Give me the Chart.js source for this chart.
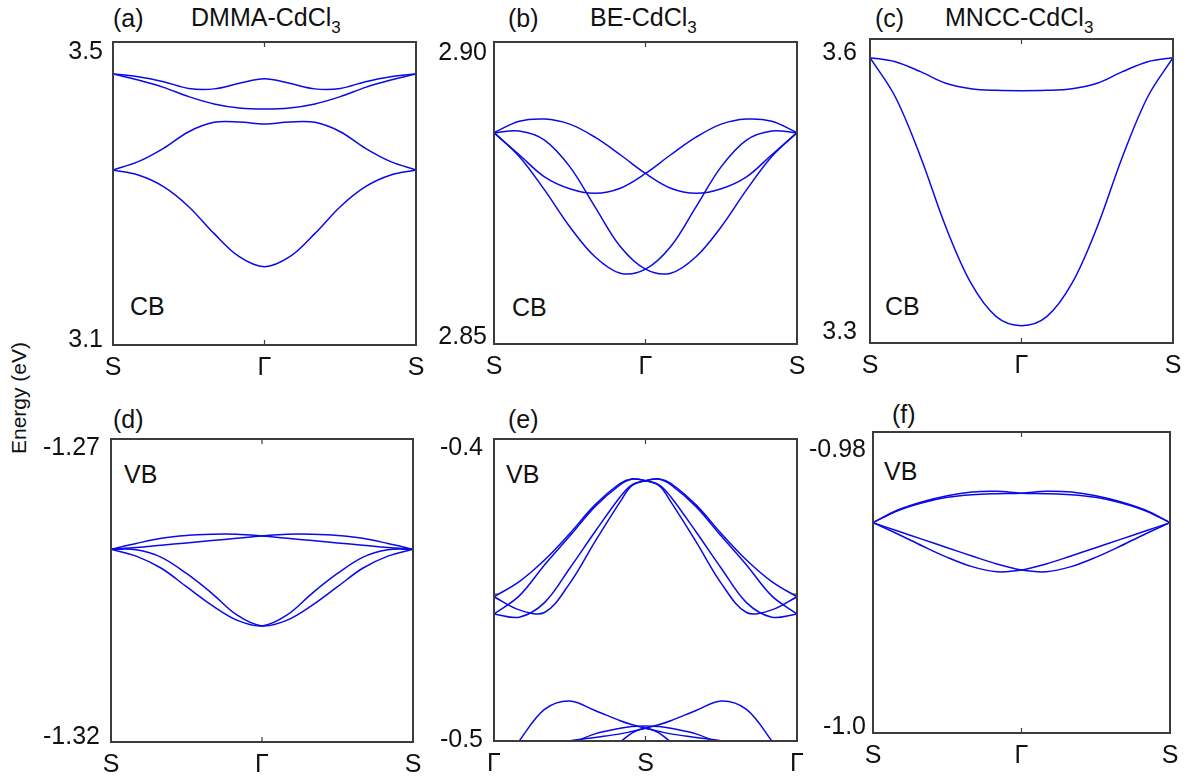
<!DOCTYPE html>
<html>
<head>
<meta charset="utf-8">
<script src="https://cdn.jsdelivr.net/npm/chart.js@4.4.0/dist/chart.umd.min.js"></script>
<style>
  html, body { margin: 0; padding: 0; background: #fff; overflow: hidden; }
  #fig { position: relative; width: 1191px; height: 783px; font-family: "Liberation Sans", Arial, sans-serif; color: #111; }
  .txt { position: absolute; white-space: nowrap; line-height: 25px; font-size: 25px; }
  .sub { font-size: 17px; position: relative; top: 7px; }
  #ylab { position: absolute; left: 18px; top: 398px; font-size: 21px; line-height: 21px; white-space: nowrap;
          transform: translate(-50%, -50%) rotate(-90deg); }
</style>
</head>
<body>
<div id="fig">
  <div class="txt" style="left:113px;top:6px">(a)</div>
  <div class="txt" style="left:191px;top:5px">DMMA-CdCl<span class="sub">3</span></div>
  <div class="txt" style="left:508px;top:6px">(b)</div>
  <div class="txt" style="left:590px;top:5px">BE-CdCl<span class="sub">3</span></div>
  <div class="txt" style="left:875px;top:6px">(c)</div>
  <div class="txt" style="left:945px;top:5px">MNCC-CdCl<span class="sub">3</span></div>
  <div class="txt" style="left:130px;top:294px">CB</div>
  <div class="txt" style="left:512px;top:295px">CB</div>
  <div class="txt" style="left:885px;top:294px">CB</div>
  <div class="txt" style="left:113px;top:407px">(d)</div>
  <div class="txt" style="left:508px;top:407px">(e)</div>
  <div class="txt" style="left:892px;top:402px">(f)</div>
  <div class="txt" style="left:124px;top:462px">VB</div>
  <div class="txt" style="left:506px;top:462px">VB</div>
  <div class="txt" style="left:884px;top:459px">VB</div>
  <div id="ylab">Energy (eV)</div>
</div>
<script>
// k-path positions (fraction of the path)
var kx13 = [0, 0.0833, 0.1667, 0.25, 0.3333, 0.4167, 0.5, 0.5833, 0.6667, 0.75, 0.8333, 0.9167, 1];
var kx15 = [0, 0.0833, 0.1667, 0.25, 0.3333, 0.4167, 0.454, 0.5, 0.546, 0.5833, 0.6667, 0.75, 0.8333, 0.9167, 1];

var kLabelsSGS = ['S', 'Γ', 'S'];
var kLabelsGSG = ['Γ', 'S', 'Γ'];

// (a) DMMA-CdCl3, conduction band
var dmma1 = [3.3361, 3.3292, 3.3130, 3.2852, 3.2481, 3.2157, 3.2019, 3.2157, 3.2481, 3.2852, 3.3130, 3.3292, 3.3361];
var dmma2 = [3.3361, 3.3477, 3.3662, 3.3893, 3.4023, 3.4028, 3.4000, 3.4028, 3.4023, 3.3893, 3.3662, 3.3477, 3.3361];
var dmma3 = [3.4694, 3.4611, 3.4509, 3.4380, 3.4278, 3.4222, 3.4208, 3.4222, 3.4278, 3.4380, 3.4509, 3.4611, 3.4694];
var dmma4 = [3.4694, 3.4657, 3.4588, 3.4494, 3.4488, 3.4565, 3.4630, 3.4565, 3.4488, 3.4494, 3.4588, 3.4657, 3.4694];
var dmmaTicks = [3.1, 3.5];
var dmmaTickLabels = ['3.1', '3.5'];

// (b) BE-CdCl3, conduction band
var be1 = [2.8860, 2.8880, 2.8884, 2.8875, 2.8852, 2.8821, 2.8788, 2.8762, 2.8753, 2.8761, 2.8782, 2.8821, 2.8860];
var be2 = [2.8860, 2.8821, 2.8782, 2.8761, 2.8753, 2.8762, 2.8788, 2.8821, 2.8852, 2.8875, 2.8884, 2.8880, 2.8860];
var be3 = [2.8860, 2.8863, 2.8847, 2.8800, 2.8729, 2.8659, 2.8619, 2.8612, 2.8641, 2.8694, 2.8759, 2.8818, 2.8860];
var be4 = [2.8860, 2.8818, 2.8759, 2.8694, 2.8641, 2.8612, 2.8619, 2.8659, 2.8729, 2.8800, 2.8847, 2.8863, 2.8860];
var beTicks = [2.85, 2.90];
var beTickLabels = ['2.85', '2.90'];

// (c) MNCC-CdCl3, conduction band
var mncc1 = [3.5953, 3.5909, 3.5802, 3.5677, 3.5619, 3.5601, 3.5597, 3.5601, 3.5619, 3.5677, 3.5802, 3.5909, 3.5953];
var mncc2 = [3.5953, 3.5532, 3.4886, 3.4131, 3.3522, 3.3162, 3.3065, 3.3162, 3.3522, 3.4131, 3.4886, 3.5532, 3.5953];
var mnccTicks = [3.3, 3.6];
var mnccTickLabels = ['3.3', '3.6'];

// (d) DMMA-CdCl3, valence band
var dmmaV1 = [-1.2875, -1.2865, -1.2856, -1.2851, -1.2849, -1.2849, -1.2852, -1.2856, -1.2860, -1.2864, -1.2868, -1.2872, -1.2875];
var dmmaV2 = [-1.2875, -1.2872, -1.2868, -1.2864, -1.2860, -1.2856, -1.2852, -1.2849, -1.2849, -1.2851, -1.2856, -1.2865, -1.2875];
var dmmaV3 = [-1.2875, -1.2887, -1.2908, -1.2940, -1.2972, -1.2998, -1.3008, -1.2989, -1.2951, -1.2917, -1.2889, -1.2876, -1.2875];
var dmmaV4 = [-1.2875, -1.2876, -1.2889, -1.2917, -1.2951, -1.2989, -1.3008, -1.2998, -1.2972, -1.2940, -1.2908, -1.2887, -1.2875];
var dmmaVTicks = [-1.32, -1.27];
var dmmaVTickLabels = ['-1.32', '-1.27'];

// (e) BE-CdCl3, valence band (path Γ-S-Γ)
var beV1 = [-0.4509, -0.4457, -0.4383, -0.4292, -0.4194, -0.4120, -0.4105, -0.4111, -0.4129, -0.4183, -0.4320, -0.4463, -0.4563, -0.4554, -0.4509];
var beV2 = [-0.4509, -0.4554, -0.4563, -0.4463, -0.4320, -0.4183, -0.4129, -0.4111, -0.4105, -0.4120, -0.4194, -0.4292, -0.4383, -0.4457, -0.4509];
var beV3 = [-0.4568, -0.4506, -0.4400, -0.4301, -0.4200, -0.4125, -0.4106, -0.4111, -0.4126, -0.4166, -0.4286, -0.4411, -0.4529, -0.4579, -0.4568];
var beV4 = [-0.4568, -0.4579, -0.4529, -0.4411, -0.4286, -0.4166, -0.4126, -0.4111, -0.4106, -0.4125, -0.4200, -0.4301, -0.4400, -0.4506, -0.4568];
var beV5 = [-0.5126, -0.5003, -0.4895, -0.4866, -0.4899, -0.4934, -0.4947, -0.4960, -0.4971, -0.4979, -0.4991, -0.5003, -0.5023, -0.5046, -0.5069];
var beV6 = [-0.5069, -0.5046, -0.5023, -0.5003, -0.4991, -0.4979, -0.4971, -0.4960, -0.4947, -0.4934, -0.4899, -0.4866, -0.4895, -0.5003, -0.5126];
var beV7 = [-0.5103, -0.5080, -0.5046, -0.5014, -0.4979, -0.4960, -0.4954, -0.4952, -0.4954, -0.4960, -0.4979, -0.5014, -0.5046, -0.5080, -0.5103];
var beV8 = [-0.5183, -0.5160, -0.5126, -0.5091, -0.5051, -0.5006, -0.4977, -0.4960, -0.4977, -0.5006, -0.5051, -0.5091, -0.5126, -0.5160, -0.5183];
var beVTicks = [-0.5, -0.4];
var beVTickLabels = ['-0.5', '-0.4'];

// (f) MNCC-CdCl3, valence band
var mnccV1 = [-0.98525, -0.98434, -0.98374, -0.98330, -0.98304, -0.98299, -0.98313, -0.98316, -0.98323, -0.98342, -0.98381, -0.98439, -0.98525];
var mnccV2 = [-0.98525, -0.98439, -0.98381, -0.98342, -0.98323, -0.98316, -0.98313, -0.98299, -0.98304, -0.98330, -0.98374, -0.98434, -0.98525];
var mnccV3 = [-0.98525, -0.98586, -0.98646, -0.98706, -0.98766, -0.98824, -0.98868, -0.98880, -0.98843, -0.98776, -0.98694, -0.98607, -0.98525];
var mnccV4 = [-0.98525, -0.98607, -0.98694, -0.98776, -0.98843, -0.98880, -0.98868, -0.98824, -0.98766, -0.98706, -0.98646, -0.98586, -0.98525];
var mnccVTicks = [-1.0, -0.98];
var mnccVTickLabels = ['-1.0', '-0.98'];

var BLUE = '#0a0ae6';
var FRAME = '#3c3c3c';
var FONT = '"Liberation Sans", Arial, sans-serif';

// plot boxes in page pixels [left, top, right, bottom] and the y range shown
var panels = [
  { box: [113, 42, 416, 345], yr: [3.0931, 3.5139], kx: kx13, kl: kLabelsSGS, bands: [dmma1, dmma2, dmma3, dmma4],
    yt: dmmaTicks, yl: dmmaTickLabels, ypad: 10, ymarks: [] },
  { box: [494, 42, 797, 344], yr: [2.8487, 2.9020], kx: kx13, kl: kLabelsSGS, bands: [be1, be2, be3, be4],
    yt: beTicks, yl: beTickLabels, ypad: 7, ymarks: [] },
  { box: [870, 39, 1173, 343], yr: [3.2878, 3.6154], kx: kx13, kl: kLabelsSGS, bands: [mncc1, mncc2],
    yt: mnccTicks, yl: mnccTickLabels, ypad: 13, ymarks: [] },
  { box: [111, 439, 413, 742], yr: [-1.32092, -1.26839], kx: kx13, kl: kLabelsSGS, bands: [dmmaV1, dmmaV2, dmmaV3, dmmaV4],
    yt: dmmaVTicks, yl: dmmaVTickLabels, ypad: 11, ymarks: [] },
  { box: [494, 439, 797, 741], yr: [-0.50034, -0.39681], kx: kx15, kl: kLabelsGSG,
    bands: [beV1, beV2, beV3, beV4, beV5, beV6, beV7, beV8],
    yt: beVTicks, yl: beVTickLabels, ypad: 11, ymarks: [-0.45] },
  { box: [873, 432, 1170, 733], yr: [-1.000455, -0.97870], kx: kx13, kl: kLabelsSGS, bands: [mnccV1, mnccV2, mnccV3, mnccV4],
    yt: mnccVTicks, yl: mnccVTickLabels, ypad: 7, ymarks: [] }
];

// frame + inward tick marks like the original plots
var framePlugin = {
  id: 'frame',
  afterDraw: function(chart) {
    var a = chart.chartArea, ctx = chart.ctx, p = chart.options.plugins.frame;
    var xs = chart.scales.x, ys = chart.scales.y;
    ctx.save();
    ctx.strokeStyle = FRAME;
    ctx.lineWidth = 1.2;
    ctx.beginPath();
    var xp = xs.getPixelForValue(0.5);
    ctx.moveTo(xp, a.top); ctx.lineTo(xp, a.top + 5);
    ctx.moveTo(xp, a.bottom); ctx.lineTo(xp, a.bottom - 5);
    for (var i = 0; i < p.ymarks.length; i++) {
      var yp = ys.getPixelForValue(p.ymarks[i]);
      ctx.moveTo(a.left, yp); ctx.lineTo(a.left + 5, yp);
      ctx.moveTo(a.right, yp); ctx.lineTo(a.right - 5, yp);
    }
    ctx.stroke();
    ctx.lineWidth = 2;
    ctx.strokeRect(a.left, a.top, a.right - a.left, a.bottom - a.top);
    ctx.restore();
  }
};

function makePanel(p) {
  var padL = 80, padT = 30, padR = 25, padB = 50;
  var w = p.box[2] - p.box[0], h = p.box[3] - p.box[1];
  var cv = document.createElement('canvas');
  cv.width = w + padL + padR;
  cv.height = h + padT + padB;
  cv.style.cssText = 'position:absolute;left:' + (p.box[0] - padL) + 'px;top:' + (p.box[1] - padT) + 'px;';
  document.getElementById('fig').appendChild(cv);

  var sets = [];
  for (var i = 0; i < p.bands.length; i++) {
    var pts = [];
    for (var j = 0; j < p.kx.length; j++) {
      pts.push({ x: p.kx[j], y: p.bands[i][j] });
    }
    sets.push({ data: pts, borderColor: BLUE, borderWidth: 1.5, pointRadius: 0,
                tension: 0.35, fill: false });
  }

  new Chart(cv, {
    type: 'line',
    data: { datasets: sets },
    options: {
      responsive: false,
      animation: false,
      devicePixelRatio: 1,
      layout: { padding: { left: 0, top: padT, right: padR, bottom: 0 } },
      plugins: { legend: { display: false }, tooltip: { enabled: false }, frame: { ymarks: p.ymarks } },
      scales: {
        x: {
          type: 'linear', min: 0, max: 1,
          afterBuildTicks: function(s) { s.ticks = [{ value: 0 }, { value: 0.5 }, { value: 1 }]; },
          afterFit: function(s) { s.height = padB; },
          ticks: { callback: function(v, idx) { return p.kl[idx]; }, font: { family: FONT, size: 25 },
                   color: '#111', padding: 8, maxRotation: 0, autoSkip: false },
          grid: { display: false, drawTicks: false },
          border: { display: false }
        },
        y: {
          type: 'linear', min: p.yr[0], max: p.yr[1],
          afterBuildTicks: function(s) { s.ticks = [{ value: p.yt[0] }, { value: p.yt[1] }]; },
          afterFit: function(s) { s.width = padL; },
          ticks: { callback: function(v, idx) { return p.yl[idx]; }, font: { family: FONT, size: 25 },
                   color: '#111', padding: p.ypad, autoSkip: false },
          grid: { display: false, drawTicks: false },
          border: { display: false }
        }
      }
    },
    plugins: [framePlugin]
  });
}

for (var n = 0; n < panels.length; n++) {
  makePanel(panels[n]);
}
</script>
</body>
</html>
